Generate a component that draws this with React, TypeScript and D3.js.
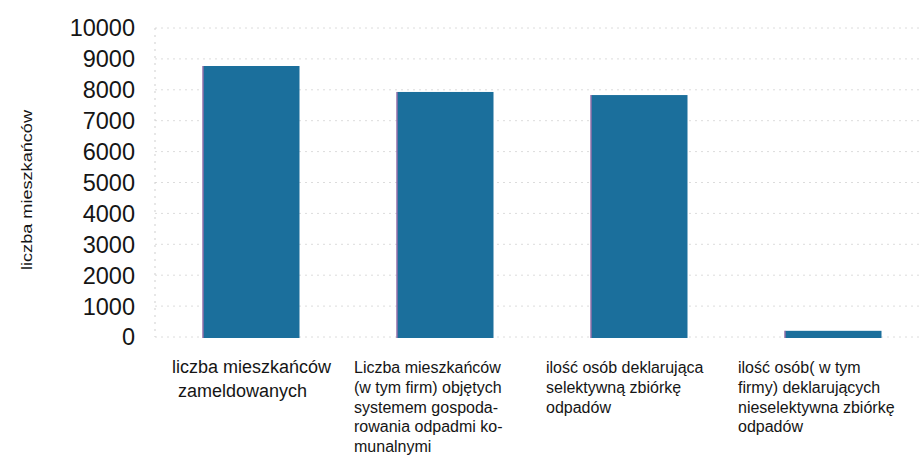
import React from "react";
import * as d3 from "d3";

const categories = ["zameldowani", "objęci systemem", "selektywna", "nieselektywna"];
const values = [8770, 7930, 7830, 200];
const categoryLines: string[][] = [
  ["liczba mieszkańców", "zameldowanych"],
  ["Liczba mieszkańców", "(w tym firm) objętych", "systemem gospoda-", "rowania odpadmi ko-", "munalnymi"],
  ["ilość osób deklarująca", "selektywną zbiórkę", "odpadów"],
  ["ilość osób( w tym", "firmy) deklarujących", "nieselektywna zbiórkę", "odpadów"],
];
const yTicks = [0, 1000, 2000, 3000, 4000, 5000, 6000, 7000, 8000, 9000, 10000];
const yTitle = "liczba mieszkańców";

const W = 924;
const H = 470;

export default function App() {
  const x = d3
    .scaleBand<string>()
    .domain(categories)
    .range([154, 930])
    .paddingInner(0.5)
    .paddingOuter(0.25);
  const y = d3.scaleLinear().domain([0, 10000]).range([337, 28]);
  const font = "'Liberation Sans', Arial, sans-serif";
  const barColor = "#1b6f9c";

  return (
    <svg
      width={W}
      height={H}
      style={{ position: "absolute", left: 0, top: 0, background: "#fff" }}
      fontFamily={font}
    >
      <rect x={0} y={0} width={W} height={H} fill="#fff" />
      {yTicks.map((t) => (
        <line
          key={"g" + t}
          x1={155}
          x2={920}
          y1={y(t)}
          y2={y(t)}
          stroke="#dcdcdc"
          strokeWidth={1}
          strokeDasharray="2,4"
        />
      ))}
      <line x1={155} x2={155} y1={y(10000)} y2={y(0)} stroke="#cfcfcf" strokeDasharray="2,5" />
      {yTicks.map((t) => (
        <text
          key={"t" + t}
          x={135}
          y={y(t)}
          dy="0.36em"
          textAnchor="end"
          fontSize={23.5}
          fill="#151515"
        >
          {t}
        </text>
      ))}
      <text
        transform={`translate(32,190) rotate(-90)`}
        textAnchor="middle"
        fontSize={15}
        textLength={160}
        lengthAdjust="spacingAndGlyphs"
        fill="#151515"
      >
        {yTitle}
      </text>
      {categories.map((c, i) => {
        const bx = x(c) as number;
        const bw = x.bandwidth();
        const top = y(values[i]);
        const h = y(0) - top + 1;
        return (
          <g key={c}>
            <rect x={bx} y={top} width={bw} height={h} fill={barColor} />
            <line x1={bx + 0.5} x2={bx + 0.5} y1={top} y2={top + h} stroke="#d46fb0" strokeWidth={1.2} opacity={0.8} />
          </g>
        );
      })}
      {categories.map((c, i) => {
        const cx = (x(c) as number) + x.bandwidth() / 2;
        const lines = categoryLines[i];
        if (i === 0) {
          return (
            <g key={"l" + c} fill="#151515">
              <text x={cx - 79} y={373} fontSize={18}>
                {lines[0]}
              </text>
              <text x={cx - 73} y={397} fontSize={18}>
                {lines[1]}
              </text>
            </g>
          );
        }
        const left = i === 1 ? cx - 91 : i === 2 ? cx - 93 : cx - 95;
        return (
          <g key={"l" + c} fill="#151515">
            {lines.map((ln, j) => (
              <text key={j} x={left} y={373 + j * 19.8} fontSize={16}>
                {ln}
              </text>
            ))}
          </g>
        );
      })}
    </svg>
  );
}
